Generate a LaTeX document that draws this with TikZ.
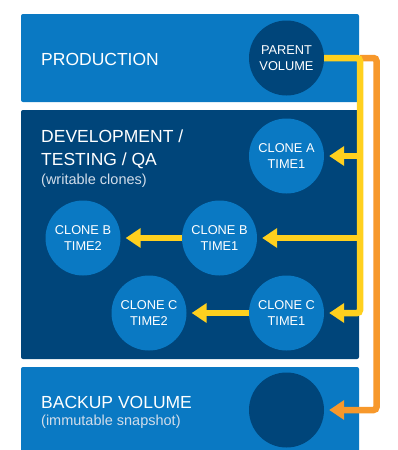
\documentclass[tikz,border=0pt]{standalone}
\usepackage{fontspec}
\setmainfont{Liberation Sans}
\usetikzlibrary{arrows.meta}

\definecolor{lightblue}{HTML}{0A79C3}
\definecolor{darkblue}{HTML}{00457A}
\definecolor{notegray}{HTML}{D2DDEA}
\definecolor{cloneyellow}{HTML}{FFD01E}
\definecolor{backuporange}{HTML}{F7982B}

\tikzstyle{panel} = [rounded corners=2pt]
\tikzstyle{volume} = [circle,minimum size=75pt,inner sep=0pt,align=center,text=white,font=\fontsize{12.8}{16}\selectfont]
\tikzstyle{clone} = [volume,fill=lightblue]
\tikzstyle{paneltitle} = [anchor=base west,inner sep=0pt,text=white,font=\fontsize{17.5}{23}\selectfont]
\tikzstyle{panelnote} = [anchor=base west,inner sep=0pt,text=notegray,font=\fontsize{14.5}{17}\selectfont]
\tikzstyle{clonearrow} = [draw=cloneyellow,line width=6.5pt,-{Triangle[length=15pt,width=19pt]},shorten >=5pt]
\tikzstyle{backuparrow} = [draw=backuporange,line width=6.5pt,-{Triangle[length=15pt,width=19pt]},shorten >=5pt]

\begin{document}
\begin{tikzpicture}[x=1pt,y=-1pt]
		\useasboundingbox (0,0) rectangle (398,450);
		\clip (0,0) rectangle (398,450);
		% panels
		\fill[lightblue,panel] (21,14) rectangle (359,102);
		\fill[darkblue,panel] (21,110) rectangle (359,359);
		\fill[lightblue,panel] (21,367) rectangle (359,460);
		\node[paneltitle] (prod) at (41,65) {PRODUCTION};
		\node[paneltitle] (dev1) at (41,142) {DEVELOPMENT /};
		\node[paneltitle] (dev2) at (41,165) {TESTING / QA};
		\node[panelnote] (devnote) at (41,184) {(writable clones)};
		\node[paneltitle] (bkp) at (41,408) {BACKUP VOLUME};
		\node[panelnote] (bkpnote) at (41,425) {(immutable snapshot)};
		% volumes
		\node[volume,fill=darkblue] (pv) at (286.5,58) {PARENT\\VOLUME};
		\node[clone] (ca1) at (286.5,156) {CLONE A\\TIME1};
		\node[clone] (cb1) at (219.5,238) {CLONE B\\TIME1};
		\node[clone] (cb2) at (83,238) {CLONE B\\TIME2};
		\node[clone] (cc1) at (286.5,313) {CLONE C\\TIME1};
		\node[clone] (cc2) at (149,313) {CLONE C\\TIME2};
		\node[volume,fill=darkblue] (bk) at (286.5,410) {};
		% connectors
		\coordinate (ytop) at (360,58);
		\coordinate (ybot) at (360,313);
		\coordinate (otop) at (376.5,58);
		\coordinate (obot) at (376.5,410);
		\draw[backuparrow,rounded corners=3pt] (ytop) -- (otop) -- (obot) -- (bk.east);
		\draw[clonearrow,rounded corners=3pt] (pv.east) -- (ytop) -- (ybot) -- (cc1.east);
		\draw[clonearrow] (ytop |- ca1) -- (ca1.east);
		\draw[clonearrow] (ytop |- cb1) -- (cb1.east);
		\draw[clonearrow] (cb1.west) -- (cb2.east);
		\draw[clonearrow] (cc1.west) -- (cc2.east);
		\end{tikzpicture}
\end{document}
